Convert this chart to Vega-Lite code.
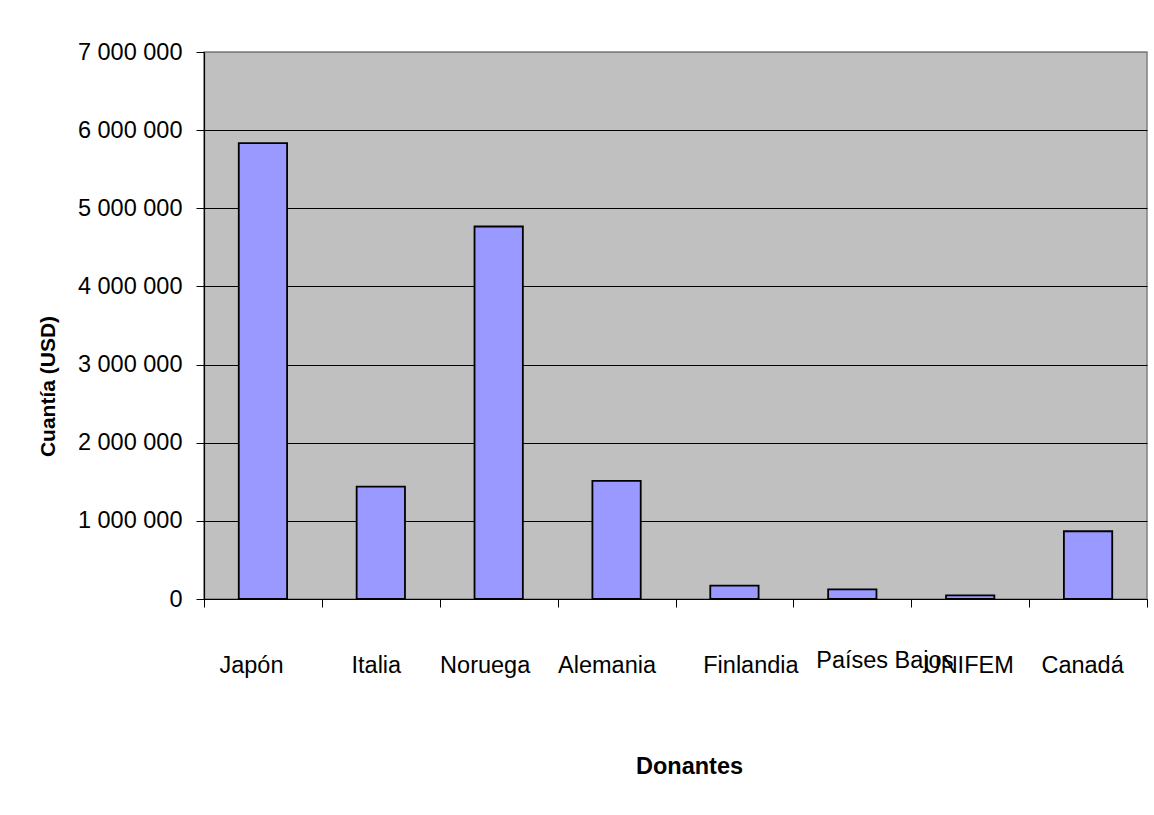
{
  "$schema": "https://vega.github.io/schema/vega-lite/v6.json",
  "autosize": {"type": "none"},
  "width": 943,
  "height": 547,
  "padding": {"left": 204, "top": 52, "right": 7, "bottom": 216},
  "background": "#ffffff",
  "config": {
    "locale": {"number": {"decimal": ",", "thousands": " ", "grouping": [3], "currency": ["", " $"]}},
    "font": "Liberation Sans",
    "view": {"fill": "#C0C0C0", "stroke": "#808080", "strokeWidth": 1.5}
  },
  "data": {
    "values": [
      {"donante": "Japón", "cuantia": 5835000},
      {"donante": "Italia", "cuantia": 1438000},
      {"donante": "Noruega", "cuantia": 4767000},
      {"donante": "Alemania", "cuantia": 1511000},
      {"donante": "Finlandia", "cuantia": 170000},
      {"donante": "Países Bajos", "cuantia": 124000},
      {"donante": "UNIFEM", "cuantia": 47000},
      {"donante": "Canadá", "cuantia": 867000}
    ]
  },
  "mark": {"type": "bar", "fill": "#9999FF", "stroke": "#000000", "strokeWidth": 1.8, "width": {"band": 0.41}},
  "encoding": {
    "x": {
      "field": "donante",
      "type": "nominal",
      "sort": null,
      "scale": {"paddingInner": 0, "paddingOuter": 0},
      "axis": {
        "title": "Donantes",
        "titleFont": "Liberation Sans",
        "titleFontSize": 23.5,
        "titleFontWeight": "bold",
        "titleColor": "#000000",
        "titleX": 485,
        "titleY": 174,
        "titleAlign": "center",
        "titleBaseline": "alphabetic",
        "labelAngle": 0,
        "labelFont": "Liberation Sans",
        "labelFontSize": 23.5,
        "labelColor": "#000000",
        "labelBaseline": "alphabetic",
        "labelPadding": {"condition": {"test": "datum.value === 'Países Bajos'", "value": 60}, "value": 65},
        "labelOffset": {
          "condition": [
            {"test": "datum.value === 'Japón'", "value": -12},
            {"test": "datum.value === 'Italia'", "value": -5},
            {"test": "datum.value === 'Noruega'", "value": -14},
            {"test": "datum.value === 'Alemania'", "value": -10},
            {"test": "datum.value === 'Finlandia'", "value": 16},
            {"test": "datum.value === 'Países Bajos'", "value": 32},
            {"test": "datum.value === 'UNIFEM'", "value": -2}
          ],
          "value": -6
        },
        "labelOverlap": false,
        "labelBound": false,
        "tickBand": "extent",
        "tickSize": 8,
        "tickColor": "#000000",
        "tickWidth": 1,
        "domainColor": "#000000",
        "domainWidth": 1.2,
        "grid": false
      }
    },
    "y": {
      "field": "cuantia",
      "type": "quantitative",
      "scale": {"domain": [0, 7000000], "nice": false},
      "axis": {
        "title": "Cuantía (USD)",
        "titleFont": "Liberation Sans",
        "titleFontSize": 21,
        "titleFontWeight": "bold",
        "titleColor": "#000000",
        "titleX": -156,
        "titleY": 334,
        "titleAlign": "center",
        "titleBaseline": "middle",
        "titleAngle": -90,
        "values": [0, 1000000, 2000000, 3000000, 4000000, 5000000, 6000000, 7000000],
        "format": ",d",
        "labelFont": "Liberation Sans",
        "labelFontSize": 23.5,
        "labelColor": "#000000",
        "labelPadding": 14,
        "tickSize": 8,
        "tickColor": "#000000",
        "tickWidth": 1,
        "domainColor": "#000000",
        "domainWidth": 1.2,
        "grid": true,
        "gridColor": {"condition": {"test": "datum.value >= 7000000", "value": "#808080"}, "value": "#000000"},
        "gridWidth": 1
      }
    }
  }
}
